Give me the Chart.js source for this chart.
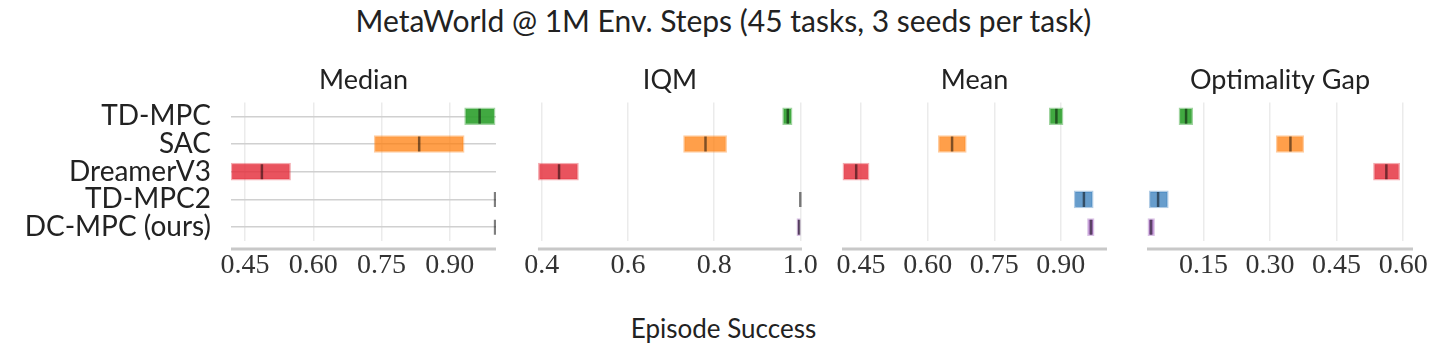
<!DOCTYPE html>
<html>
<head>
<meta charset="utf-8">
<script src="https://cdn.jsdelivr.net/npm/chart.js@4.4.1/dist/chart.umd.min.js"></script>
<style>
  body { margin: 0; background: #fff; }
  #page { position: relative; width: 1447px; height: 346px; overflow: hidden; font-family: Lato, sans-serif; color: #222; }
  #title { position: absolute; left: 0; top: 2px; width: 1447px; text-align: center; font-size: 30px; line-height: 36px; }
  #xlabel { position: absolute; left: 0; top: 311px; width: 1447px; text-align: center; font-size: 26px; line-height: 34px; }
  canvas { position: absolute; top: 60px; }
</style>
</head>
<body>
<div id="page">
  <div id="title">MetaWorld @ 1M Env. Steps (45 tasks, 3 seeds per task)</div>
  <canvas id="median" width="536" height="231" style="left:0px"></canvas>
  <canvas id="iqm" width="326" height="231" style="left:516px"></canvas>
  <canvas id="mean" width="325" height="231" style="left:822px"></canvas>
  <canvas id="gap" width="326" height="231" style="left:1127px"></canvas>
  <div id="xlabel">Episode Success</div>
</div>
<script>
const methods = ['TD-MPC', 'SAC', 'DreamerV3', 'TD-MPC2', 'DC-MPC (ours)'];

// confidence intervals [low, high] and point estimates, one entry per method
const medianCI = [[0.933, 1.0], [0.734, 0.932], [0.419, 0.550], [1.0, 1.0], [1.0, 1.0]];
const medianEst = [0.966, 0.833, 0.487, 1.0, 1.0];
const iqmCI = [[0.959, 0.981], [0.729, 0.829], [0.392, 0.485], [1.0, 1.0], [0.992, 1.0]];
const iqmEst = [0.971, 0.780, 0.440, 1.0, 0.997];
const meanCI = [[0.874, 0.905], [0.624, 0.687], [0.409, 0.468], [0.930, 0.973], [0.960, 0.975]];
const meanEst = [0.890, 0.655, 0.439, 0.952, 0.968];
const gapCI = [[0.095, 0.126], [0.314, 0.376], [0.533, 0.592], [0.028, 0.071], [0.025, 0.040]];
const gapEst = [0.111, 0.346, 0.562, 0.048, 0.032];

// tick labels and axis limits per panel
const medianTicks = [0.45, 0.60, 0.75, 0.90];
const iqmTicks = [0.4, 0.6, 0.8, 1.0];
const meanTicks = [0.45, 0.60, 0.75, 0.90];
const gapTicks = [0.15, 0.30, 0.45, 0.60];
const medianRange = [0.419, 1.002];
const iqmRange = [0.391, 1.004];
const meanRange = [0.407, 1.004];
const gapRange = [0.023, 0.622];

const fills = [
    'rgba(44, 160, 44, 0.9)',   // green
    'rgba(255, 127, 14, 0.75)', // orange
    'rgba(228, 45, 58, 0.82)',  // red
    'rgba(31, 110, 180, 0.68)', // blue
    'rgba(148, 80, 180, 0.7)'   // purple
];
const edges = [
    'rgba(44, 160, 44, 0.45)',
    'rgba(255, 127, 14, 0.4)',
    'rgba(228, 45, 58, 0.4)',
    'rgba(31, 110, 180, 0.35)',
    'rgba(148, 80, 180, 0.35)'
];

// seaborn-style detached x axis line below the plot area
const offsetAxis = {
    id: 'offsetAxis',
    afterDraw(chart) {
        const { ctx, chartArea } = chart;
        ctx.save();
        ctx.strokeStyle = '#c8c8c8';
        ctx.lineWidth = 3;
        ctx.beginPath();
        ctx.moveTo(chartArea.left, chartArea.bottom + 8);
        ctx.lineTo(chartArea.right, chartArea.bottom + 8);
        ctx.stroke();
        ctx.restore();
    }
};

function makePanel(id, title, ci, est, ticks, range, decimals, first) {
    const ctx = document.getElementById(id).getContext('2d');
    return new Chart(ctx, {
        type: 'bar',
        data: {
            labels: methods,
            datasets: [
                {
                    type: 'line',
                    data: est,
                    showLine: false,
                    pointStyle: 'line',
                    pointRotation: 90,
                    pointRadius: 7.5,
                    pointBorderWidth: 2.5,
                    pointBorderColor: 'rgba(0, 0, 0, 0.5)',
                    order: 0
                },
                {
                    data: ci,
                    backgroundColor: fills,
                    borderColor: edges,
                    borderWidth: 1.5,
                    borderSkipped: false,
                    barThickness: 17,
                    order: 1
                }
            ]
        },
        options: {
            indexAxis: 'y',
            responsive: false,
            animation: false,
            layout: { padding: { left: 0, right: 40, top: 0, bottom: 0 } },
            plugins: {
                legend: { display: false },
                tooltip: { enabled: false },
                title: {
                    display: true,
                    text: title,
                    fullSize: false,
                    color: '#222',
                    font: { family: 'Lato', size: 27, weight: 'normal' },
                    padding: { top: 4, bottom: 6 }
                }
            },
            scales: {
                x: {
                    type: 'linear',
                    min: range[0],
                    max: range[1],
                    afterBuildTicks: scale => {
                        scale.ticks = ticks.map(v => ({ value: v }));
                    },
                    afterFit: scale => { scale.height = 50; },
                    border: { display: false },
                    grid: { color: '#ebebeb', lineWidth: 1.5, drawTicks: false },
                    ticks: {
                        padding: 8,
                        color: '#333',
                        maxRotation: 0,
                        autoSkip: false,
                        font: { family: 'Liberation Serif', size: 28 },
                        callback: value => value.toFixed(decimals)
                    }
                },
                y: {
                    type: 'category',
                    offset: true,
                    afterFit: scale => { scale.width = first ? 231 : 20; },
                    border: { display: false },
                    grid: {
                        display: first,
                        offset: false,
                        color: '#d0d0d0',
                        lineWidth: 1.5,
                        drawTicks: false
                    },
                    ticks: {
                        display: first,
                        autoSkip: false,
                        padding: 20,
                        color: '#222',
                        font: { family: 'Lato', size: 28 }
                    }
                }
            }
        },
        plugins: [offsetAxis]
    });
}

makePanel('median', 'Median', medianCI, medianEst, medianTicks, medianRange, 2, true);
makePanel('iqm', 'IQM', iqmCI, iqmEst, iqmTicks, iqmRange, 1, false);
makePanel('mean', 'Mean', meanCI, meanEst, meanTicks, meanRange, 2, false);
makePanel('gap', 'Optimality Gap', gapCI, gapEst, gapTicks, gapRange, 2, false);
</script>
</body>
</html>
